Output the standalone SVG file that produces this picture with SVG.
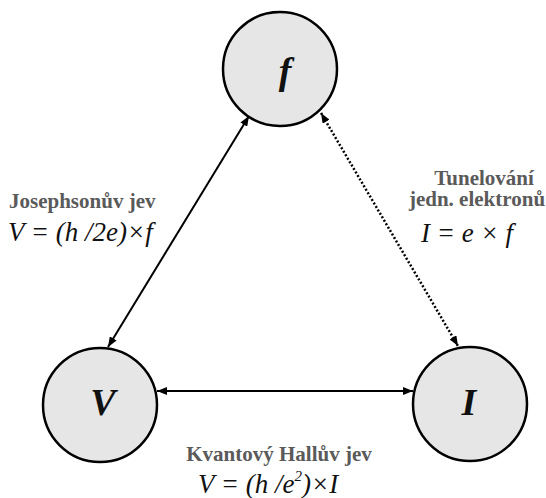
<svg xmlns="http://www.w3.org/2000/svg" width="546" height="498" viewBox="0 0 546 498">
<style>
.node{fill:#e6e6e6;stroke:#000;stroke-width:2.5}
.nl{font-family:"Liberation Serif","Times New Roman",serif;font-style:italic;font-size:38px;font-weight:bold;fill:#111;text-anchor:middle}
.conn{stroke:#000;stroke-width:2;fill:none}
.dot{stroke-dasharray:2 2;stroke-width:2.5}
.title{font-family:"Liberation Serif","Times New Roman",serif;font-weight:bold;font-size:21px;fill:#5a5a5a}
.eq{font-family:"Liberation Serif","Times New Roman",serif;font-style:italic;font-size:27px;fill:#111}
</style>
<defs>
<marker id="ah" viewBox="0 0 10 8" refX="10" refY="4" markerWidth="10" markerHeight="8" markerUnits="userSpaceOnUse" orient="auto-start-reverse">
<path d="M0,0 L10,4 L0,8 Z" fill="#000"/>
</marker>
</defs>
<rect width="546" height="498" fill="#fff"/>
<g id="connectors">
<line class="conn" x1="249" y1="116" x2="108" y2="347" marker-start="url(#ah)" marker-end="url(#ah)"/>
<line class="conn dot" x1="321" y1="113" x2="458" y2="346" marker-start="url(#ah)" marker-end="url(#ah)"/>
<line class="conn" x1="157" y1="391" x2="413" y2="391" marker-start="url(#ah)" marker-end="url(#ah)"/>
</g>
<g id="node-f">
<circle class="node" cx="280" cy="69" r="57"/>
<text class="nl" x="285" y="84">f</text>
</g>
<g id="node-V">
<circle class="node" cx="100" cy="405" r="57"/>
<text class="nl" x="103" y="415">V</text>
</g>
<g id="node-I">
<circle class="node" cx="470" cy="404" r="57"/>
<text class="nl" x="469" y="415">I</text>
</g>
<g id="label-josephson">
<text class="title" x="9" y="208">Josephsonův jev</text>
<text class="eq" x="8" y="241">V = (h /2e)×f</text>
</g>
<g id="label-tunel">
<text class="title" x="484" y="185" text-anchor="middle">Tunelování</text>
<text class="title" x="477" y="206" text-anchor="middle">jedn. elektronů</text>
<text class="eq" x="421" y="242">I = e × f</text>
</g>
<g id="label-hall">
<text class="title" x="279" y="461" text-anchor="middle">Kvantový Hallův jev</text>
<text class="eq" x="198" y="493">V = (h /e<tspan font-size="15" dy="-12">2</tspan><tspan dy="12">)×I</tspan></text>
</g>
</svg>
